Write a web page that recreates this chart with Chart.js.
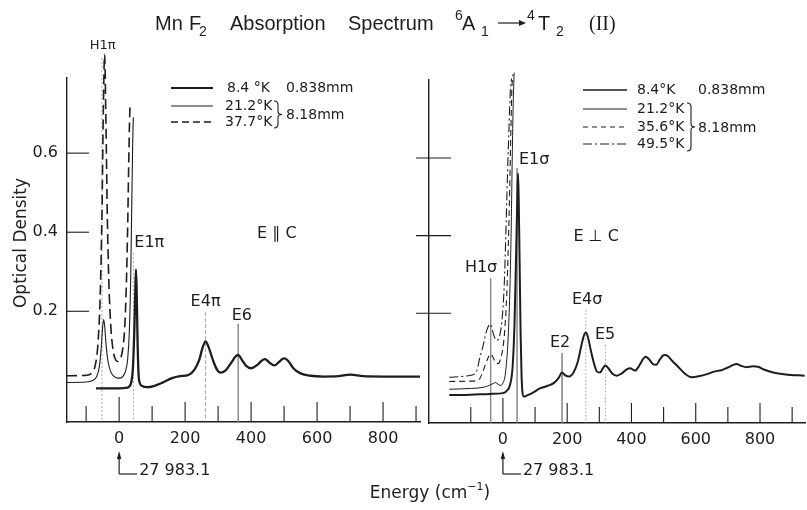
<!DOCTYPE html>
<html>
<head>
<meta charset="utf-8">
<script src="https://cdn.jsdelivr.net/npm/chart.js@4.4.0/dist/chart.umd.min.js"></script>
<style>
  html, body { margin: 0; padding: 0; background: #fff; }
  #wrap { position: relative; width: 807px; height: 510px; background: #fff; }
  #wrap canvas { position: absolute; left: 0; top: 0; }
</style>
</head>
<body>
<div id="wrap">
  <canvas id="left" width="807" height="510"></canvas>
  <canvas id="right" width="807" height="510"></canvas>
</div>
<script>
// ---- E || c panel (energy in cm-1 from 27 983.1, optical density) ----
// 8.4 K, 0.838 mm
var parE84 = [-70, 0, 25, 36, 42, 46, 49, 51, 53, 56,
              59, 63, 70, 85, 105, 130, 160, 185, 210, 228,
              242, 253, 262, 271, 285, 297, 307, 322, 340, 352,
              361, 372, 385, 400, 418, 432, 442, 456, 470, 485,
              496, 502, 512, 528, 550, 580, 620, 665, 700, 740,
              800, 912];
var parOD84 = [0.005, 0.005, 0.007, 0.018, 0.06, 0.15, 0.25, 0.306, 0.26, 0.12,
               0.04, 0.018, 0.011, 0.008, 0.011, 0.019, 0.031, 0.036, 0.039, 0.052,
               0.075, 0.108, 0.124, 0.11, 0.075, 0.052, 0.045, 0.05, 0.07, 0.085,
               0.09, 0.077, 0.062, 0.056, 0.064, 0.075, 0.079, 0.07, 0.063, 0.072,
               0.08, 0.081, 0.075, 0.056, 0.043, 0.037, 0.035, 0.036, 0.04, 0.036,
               0.035, 0.035];
// 21.2 K, 8.18 mm
var parE21 = [-158, -100, -80, -68, -60, -54, -50, -47, -44, -40,
              -34, -26, -16, -6, 2, 12, 20, 26, 31, 35,
              38, 41, 43];
var parOD21 = [0.02, 0.021, 0.025, 0.035, 0.06, 0.11, 0.16, 0.179, 0.165, 0.12,
               0.075, 0.048, 0.036, 0.031, 0.031, 0.036, 0.05, 0.08, 0.15, 0.28,
               0.45, 0.62, 0.69];
// 37.7 K, 8.18 mm
var parE37 = [-158, -100, -82, -72, -64, -57, -52, -48, -44, -40,
              -36, -31, -25, -18, -11, -5, 2, 10, 17, 22,
              26, 29, 31, 33];
var parOD37 = [0.037, 0.038, 0.045, 0.065, 0.12, 0.25, 0.45, 0.7, 0.85, 0.68,
               0.45, 0.27, 0.16, 0.1, 0.078, 0.073, 0.078, 0.1, 0.16, 0.27,
               0.42, 0.57, 0.66, 0.72];

// ---- E perp c panel ----
// 8.4 K, 0.838 mm
var perE84 = [-167, -100, -40, 0, 12, 22, 30, 36, 41, 45,
              47, 49, 52, 55, 58, 61, 65, 75, 95, 115,
              140, 160, 174, 184, 194, 206, 220, 233, 245, 253,
              258, 264, 272, 282, 292, 302, 311, 319, 328, 342,
              354, 370, 385, 396, 411, 425, 436, 444, 454, 468,
              477, 488, 497, 504, 514, 528, 545, 565, 587, 612,
              635, 660, 680, 700, 715, 727, 742, 758, 778, 794,
              812, 841, 880, 939];
var perOD84 = [-0.011, -0.01, -0.008, -0.006, 0.0, 0.015, 0.06, 0.17, 0.35, 0.5,
               0.56, 0.5, 0.33, 0.15, 0.04, -0.005, -0.015, -0.012, -0.004, 0.006,
               0.013, 0.021, 0.034, 0.047, 0.04, 0.037, 0.048, 0.075, 0.12, 0.145,
               0.15, 0.14, 0.11, 0.075, 0.05, 0.047, 0.058, 0.065, 0.058, 0.043,
               0.039, 0.045, 0.055, 0.058, 0.052, 0.066, 0.082, 0.088, 0.082, 0.068,
               0.067, 0.08, 0.09, 0.092, 0.089, 0.076, 0.062, 0.045, 0.035, 0.038,
               0.043, 0.05, 0.053, 0.06, 0.066, 0.069, 0.064, 0.061, 0.063, 0.062,
               0.055, 0.047, 0.042, 0.039];
// 21.2 K, 8.18 mm
var perE21 = [-167, -100, -61, -42, -30, -24, -18, -12, -6, 0,
              6, 12, 17, 22, 26, 29, 32, 35];
var perOD21 = [0.004, 0.006, 0.009, 0.014, 0.019, 0.021, 0.019, 0.015, 0.014, 0.02,
               0.035, 0.08, 0.15, 0.27, 0.43, 0.6, 0.74, 0.82];
// 35.6 K, 8.18 mm
var perE35 = [-167, -100, -76, -64, -55, -46, -38, -30, -22, -15,
              -8, 0, 6, 12, 17, 21, 25, 28, 31];
var perOD35 = [0.024, 0.025, 0.028, 0.045, 0.067, 0.085, 0.095, 0.085, 0.072, 0.07,
               0.08, 0.11, 0.16, 0.25, 0.38, 0.52, 0.68, 0.78, 0.815];
// 49.5 K, 8.18 mm
var perE49 = [-167, -100, -82, -72, -62, -54, -46, -40, -34, -27,
              -20, -14, -8, -2, 4, 9, 14, 19, 23, 27];
var perOD49 = [0.035, 0.04, 0.05, 0.085, 0.115, 0.145, 0.165, 0.172, 0.16, 0.14,
               0.13, 0.133, 0.15, 0.19, 0.27, 0.4, 0.55, 0.68, 0.77, 0.805];

// ticks
var xTickLabels = [0, 200, 400, 600, 800];
var xTickMarks = [-100, 0, 100, 200, 300, 400, 500, 600, 700, 800, 900];
var yTickLabels = [0.2, 0.4, 0.6];

// assigned lines
var parPeakNames = ['H1π', 'E1π', 'E4π', 'E6'];
var parPeakE = [-52, 43, 262, 361];
var perPeakNames = ['H1σ', 'E1σ', 'E2', 'E4σ', 'E5'];
var perPeakE = [-38, 44, 184, 258, 319];

var INK = '#1d1d1d';
var FONT = '"DejaVu Sans", "Liberation Sans", sans-serif';
var TFONT = '"Liberation Sans", Arial, sans-serif';

// where the peak names sit (value units) and how their guide lines look
var parLabelLayout = [
  { x: -50, y: 0.873, top: 0.841, size: 13, align: 'center', dash: [2, 2] },
  { x: 46, y: 0.373, top: 0.347, size: 16, align: 'left', dash: [2, 2] },
  { x: 262, y: 0.223, top: 0.198, size: 16, align: 'center', dash: [4, 2] },
  { x: 372, y: 0.188, top: 0.168, size: 16, align: 'center', dash: [] }
];
var perLabelLayout = [
  { x: -68, y: 0.316, top: 0.29, size: 16, align: 'center', dash: [] },
  { x: 50, y: 0.594, top: 0.574, size: 16, align: 'left', dash: [] },
  { x: 178, y: 0.123, top: 0.097, size: 16, align: 'center', dash: [] },
  { x: 262, y: 0.234, top: 0.208, size: 16, align: 'center', dash: [1.5, 2] },
  { x: 318, y: 0.144, top: 0.118, size: 16, align: 'center', dash: [1.5, 2] }
];

function pts(xs, ys) {
  return xs.map(function (x, i) { return { x: x, y: ys[i] }; });
}

function curve(xs, ys, width, dash) {
  return {
    data: pts(xs, ys),
    borderColor: INK,
    borderWidth: width,
    borderDash: dash,
    pointRadius: 0,
    fill: false,
    clip: false,
    cubicInterpolationMode: 'monotone'
  };
}

function guides(energies, layout, ymin) {
  return energies.map(function (e, i) {
    return {
      data: [{ x: e, y: layout[i].top }, { x: e, y: ymin }],
      borderColor: '#808080',
      borderWidth: 0.7,
      borderDash: layout[i].dash,
      pointRadius: 0,
      fill: false,
      clip: false,
      tension: 0
    };
  });
}

function baseOptions(p) {
  return {
    responsive: false,
    animation: false,
    events: [],
    layout: { padding: p.pad },
    plugins: { legend: { display: false }, tooltip: { enabled: false }, title: { display: false } },
    elements: { point: { radius: 0 }, line: { capBezierPoints: false } },
    scales: {
      x: {
        type: 'linear', min: p.xmin, max: p.xmax,
        grid: { display: false, drawTicks: false },
        border: { display: true, color: INK, width: 1.4 },
        afterBuildTicks: function (s) { s.ticks = xTickLabels.map(function (v) { return { value: v }; }); },
        afterFit: function (s) { s.height = 40; },
        ticks: {
          color: INK, font: { family: FONT, size: 16 }, padding: 7,
          maxRotation: 0, autoSkip: false,
          callback: function (v) { return String(v); }
        }
      },
      y: {
        type: 'linear', min: p.ymin, max: p.ymax,
        grid: { display: false, drawTicks: false },
        border: { display: true, color: INK, width: 1.4 },
        afterBuildTicks: function (s) { s.ticks = yTickLabels.map(function (v) { return { value: v }; }); },
        afterFit: function (s) { s.width = p.yWidth; },
        ticks: {
          display: p.yLabels, color: INK, font: { family: FONT, size: 16 }, padding: 9,
          callback: function (v) { return v.toFixed(1); }
        }
      }
    }
  };
}

function line(ctx, x1, y1, x2, y2, w, dash) {
  ctx.save();
  ctx.strokeStyle = INK;
  ctx.lineWidth = w;
  ctx.setLineDash(dash || []);
  ctx.beginPath();
  ctx.moveTo(x1, y1);
  ctx.lineTo(x2, y2);
  ctx.stroke();
  ctx.restore();
}

function text(ctx, s, x, y, size, align, family) {
  ctx.font = size + 'px ' + (family || FONT);
  ctx.fillStyle = INK;
  ctx.textAlign = align || 'left';
  ctx.textBaseline = 'middle';
  ctx.fillText(s, x, y);
}

function brace(ctx, x, y1, y2) {
  var m = (y1 + y2) / 2;
  ctx.save();
  ctx.strokeStyle = INK;
  ctx.lineWidth = 1.1;
  ctx.beginPath();
  ctx.moveTo(x, y1);
  ctx.quadraticCurveTo(x + 4, y1, x + 4, y1 + 4);
  ctx.lineTo(x + 4, m - 3);
  ctx.quadraticCurveTo(x + 4, m, x + 8, m);
  ctx.quadraticCurveTo(x + 4, m, x + 4, m + 3);
  ctx.lineTo(x + 4, y2 - 4);
  ctx.quadraticCurveTo(x + 4, y2, x, y2);
  ctx.stroke();
  ctx.restore();
}

function originArrow(ctx, x0) {
  ctx.save();
  ctx.fillStyle = INK;
  ctx.beginPath();
  ctx.moveTo(x0, 451);
  ctx.lineTo(x0 - 2.2, 459);
  ctx.lineTo(x0 + 2.2, 459);
  ctx.closePath();
  ctx.fill();
  ctx.restore();
  line(ctx, x0, 455, x0, 474, 1.2);
  line(ctx, x0, 474, x0 + 18, 474, 1.2);
  text(ctx, '27 983.1', x0 + 20, 471, 16);
}

function insideTicks(chart, crossLeft) {
  var ctx = chart.ctx, xs = chart.scales.x, ys = chart.scales.y, a = chart.chartArea;
  xTickMarks.forEach(function (v) {
    var px = xs.getPixelForValue(v);
    var len = v === 0 ? 25 : (v % 200 === 0 ? 20 : 16);
    line(ctx, px, a.bottom, px, a.bottom - len, 1.1);
  });
  yTickLabels.forEach(function (v) {
    var py = ys.getPixelForValue(v);
    line(ctx, a.left - crossLeft, py, a.left + 22, py, 1.1);
  });
}

function peakLabels(chart, names, layout) {
  var ctx = chart.ctx, xs = chart.scales.x, ys = chart.scales.y;
  names.forEach(function (n, i) {
    var L = layout[i];
    text(ctx, n, xs.getPixelForValue(L.x), ys.getPixelForValue(L.y), L.size, L.align);
  });
}

function legendRow(ctx, x1, x2, y, w, dash, label, lx) {
  line(ctx, x1, y, x2, y, w, dash);
  text(ctx, label, lx, y, 14);
}

var leftDeco = {
  id: 'leftDeco',
  afterDraw: function (chart) {
    var ctx = chart.ctx, xs = chart.scales.x, ys = chart.scales.y;
    insideTicks(chart, 0);
    peakLabels(chart, parPeakNames, parLabelLayout);
    text(ctx, 'E ∥ C', xs.getPixelForValue(478), ys.getPixelForValue(0.395), 16, 'center');

    legendRow(ctx, 171, 213, 88, 2.2, [], '8.4 °K', 227);
    text(ctx, '0.838mm', 286, 88, 14);
    legendRow(ctx, 171, 213, 106, 1.1, [], '21.2°K', 225);
    legendRow(ctx, 171, 213, 122, 1.5, [7, 4], '37.7°K', 225);
    brace(ctx, 274, 101, 128);
    text(ctx, '8.18mm', 286, 115, 14);

    originArrow(ctx, xs.getPixelForValue(0));

    // title
    ctx.textBaseline = 'alphabetic';
    ctx.fillStyle = INK;
    ctx.textAlign = 'left';
    ctx.font = '20px ' + TFONT;
    ctx.fillText('Mn', 155, 30);
    ctx.fillText('F', 189, 30);
    ctx.fillText('Absorption', 230, 30);
    ctx.fillText('Spectrum', 348, 30);
    ctx.fillText('A', 462, 30);
    ctx.fillText('T', 538, 30);
    ctx.font = '14px ' + TFONT;
    ctx.fillText('2', 199, 36);
    ctx.fillText('6', 455, 20);
    ctx.fillText('1', 481, 36);
    ctx.fillText('4', 527, 20);
    ctx.fillText('2', 556, 36);
    ctx.font = '20px "Liberation Serif", "DejaVu Serif", serif';
    ctx.fillText('(II)', 589, 30);
    line(ctx, 498, 23, 522, 23, 1.2);
    ctx.beginPath();
    ctx.moveTo(526, 23);
    ctx.lineTo(519, 20);
    ctx.lineTo(519, 26);
    ctx.closePath();
    ctx.fill();

    // axis titles
    ctx.save();
    ctx.translate(22, 243);
    ctx.rotate(-Math.PI / 2);
    text(ctx, 'Optical Density', 0, 0, 17, 'center');
    ctx.restore();

    ctx.textBaseline = 'alphabetic';
    ctx.textAlign = 'left';
    ctx.font = '17px ' + FONT;
    var w1 = ctx.measureText('Energy (cm').width;
    ctx.font = '11px ' + FONT;
    var w2 = ctx.measureText('−1').width;
    ctx.font = '17px ' + FONT;
    var w3 = ctx.measureText(')').width;
    var sx = 430 - (w1 + w2 + w3) / 2;
    ctx.fillText('Energy (cm', sx, 498);
    ctx.font = '11px ' + FONT;
    ctx.fillText('−1', sx + w1, 490);
    ctx.font = '17px ' + FONT;
    ctx.fillText(')', sx + w1 + w2, 498);
  }
};

var rightDeco = {
  id: 'rightDeco',
  afterDraw: function (chart) {
    var ctx = chart.ctx, xs = chart.scales.x, ys = chart.scales.y;
    insideTicks(chart, 13);
    peakLabels(chart, perPeakNames, perLabelLayout);
    text(ctx, 'E ⊥ C', xs.getPixelForValue(290), ys.getPixelForValue(0.396), 16, 'center');

    legendRow(ctx, 583, 627, 90, 1.6, [], '8.4°K', 637);
    text(ctx, '0.838mm', 698, 90, 14);
    legendRow(ctx, 583, 627, 109, 1.0, [], '21.2°K', 637);
    legendRow(ctx, 583, 627, 127, 1.1, [5, 4], '35.6°K', 637);
    legendRow(ctx, 583, 627, 144, 1.1, [9, 3, 2, 3], '49.5°K', 637);
    brace(ctx, 687, 103, 151);
    text(ctx, '8.18mm', 698, 128, 14);

    originArrow(ctx, xs.getPixelForValue(0));
  }
};

new Chart(document.getElementById('left'), {
  type: 'line',
  data: {
    datasets: [
      curve(parE84, parOD84, 2.3, []),
      curve(parE21, parOD21, 1.1, []),
      curve(parE37, parOD37, 1.6, [10, 5])
    ].concat(guides(parPeakE, parLabelLayout, -0.08))
  },
  options: baseOptions({
    xmin: -158, xmax: 912, ymin: -0.08, ymax: 0.79,
    pad: { left: 0, top: 78, right: 387, bottom: 48 },
    yWidth: 67, yLabels: true
  }),
  plugins: [leftDeco]
});

new Chart(document.getElementById('right'), {
  type: 'line',
  data: {
    datasets: [
      curve(perE84, perOD84, 2.0, []),
      curve(perE21, perOD21, 1.0, []),
      curve(perE35, perOD35, 1.1, [6, 4]),
      curve(perE49, perOD49, 1.1, [9, 3, 2, 3])
    ].concat(guides(perPeakE, perLabelLayout, -0.083))
  },
  options: baseOptions({
    xmin: -230, xmax: 940, ymin: -0.083, ymax: 0.801,
    pad: { left: 419, top: 80, right: 2, bottom: 47 },
    yWidth: 10, yLabels: false
  }),
  plugins: [rightDeco]
});
</script>
</body>
</html>
